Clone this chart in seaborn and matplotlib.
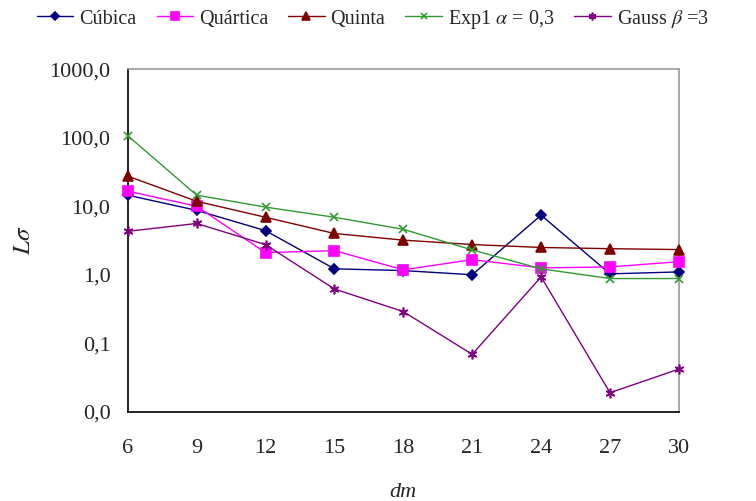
import matplotlib
matplotlib.use("Agg")
import matplotlib.pyplot as plt
import matplotlib.ticker as mticker
import seaborn as sns
import pandas as pd

# data
dm = [6, 9, 12, 15, 18, 21, 24, 27, 30]
cubica = [14.5, 8.7, 4.4, 1.22, 1.15, 1.0, 7.4, 1.03, 1.1]
quartica = [16.6, 10.0, 2.1, 2.25, 1.18, 1.66, 1.26, 1.3, 1.55]
quinta = [27.5, 11.8, 6.9, 4.0, 3.2, 2.76, 2.5, 2.4, 2.33]
exp1 = [107, 14.5, 9.7, 6.9, 4.6, 2.3, 1.22, 0.88, 0.88]
gauss = [4.3, 5.6, 2.75, 0.62, 0.29, 0.069, 0.93, 0.019, 0.042]

names = ["Cúbica", "Quártica", "Quinta",
         r"Exp1 $\alpha$ = 0,3", r"Gauss $\beta$ =3"]
series = [cubica, quartica, quinta, exp1, gauss]
colors = ["#000080", "#ff00ff", "#800000", "#339933", "#800080"]
markers = ["D", "s", "^", "x", (6, 2, 0)]
msizes = [5.5, 6.5, 7.5, 6, 7]

df = pd.DataFrame({
    "dm": dm * len(names),
    "L": sum(series, []),
    "serie": [n for n in names for _ in dm],
})

sns.set_style("white")
plt.rcParams["font.family"] = ["Liberation Serif", "DejaVu Serif"]
plt.rcParams["mathtext.fontset"] = "stix"

fig = plt.figure(figsize=(7.56, 5.01), dpi=100)
ax = fig.add_axes([0.169, 0.178, 0.729, 0.684])

for n, c, m, s in zip(names, colors, markers, msizes):
    sub = df[df["serie"] == n]
    sns.lineplot(data=sub, x="dm", y="L", ax=ax, color=c, marker=m,
                 markersize=s, markeredgecolor=c, markeredgewidth=1.2,
                 linewidth=1.0, label=n, clip_on=False, zorder=3)

ax.set_yscale("log")
ax.set_ylim(0.01, 1000)
ax.set_xlim(6, 30)
ax.set_xticks(dm)
ax.xaxis.set_minor_locator(mticker.MultipleLocator(1))
ax.yaxis.set_major_locator(mticker.LogLocator(base=10, numticks=10))
ax.yaxis.set_minor_locator(mticker.LogLocator(base=10, subs=range(2, 10), numticks=20))
ax.yaxis.set_major_formatter(mticker.FuncFormatter(
    lambda v, p: f"{v:.1f}".replace(".", ",")))
ax.yaxis.set_minor_formatter(mticker.NullFormatter())

ax.tick_params(axis="both", which="major", direction="inout", length=9,
               width=1, labelsize=16, color="black")
ax.tick_params(axis="both", which="minor", direction="in", length=4,
               width=1, color="black")
ax.tick_params(axis="x", which="major", pad=15)
ax.tick_params(axis="y", which="major", pad=8)

for side in ["left", "bottom"]:
    ax.spines[side].set_color("black")
    ax.spines[side].set_linewidth(1.2)
for side in ["top", "right"]:
    ax.spines[side].set_color("#999999")
    ax.spines[side].set_linewidth(1.2)
ax.grid(False)

ax.set_xlabel("dm", fontsize=16, style="italic", labelpad=18)
ax.set_ylabel(r"$L\sigma$", fontsize=18, labelpad=10)

handles, labels = ax.get_legend_handles_labels()
ax.get_legend().remove()
fig.legend(handles, labels, loc="center left", bbox_to_anchor=(0.025, 0.962),
           ncol=5, frameon=False, fontsize=14.5, handlelength=1.8,
           columnspacing=1.0, handletextpad=0.3, markerscale=0.8)

fig.savefig("out.png", dpi=100)
